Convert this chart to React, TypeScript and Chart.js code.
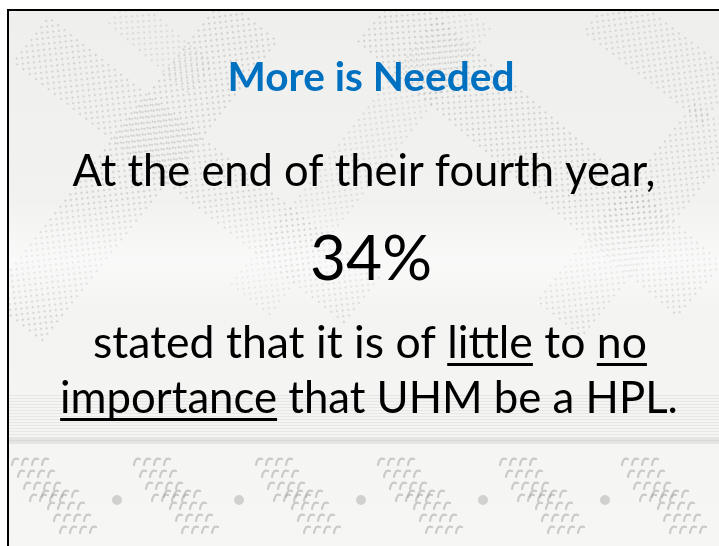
import React, { useEffect, useRef } from "react";
import { Chart, registerables } from "chart.js";

Chart.register(...registerables);

// ---- content ----
const titleText = "More is Needed";
const introLine = "At the end of their fourth year,";
const percentValue = 34;
const percentSuffix = "%";
// segments: [text, underlined]
const statementLine1: [string, boolean][] = [
  ["stated that it is of ", false],
  ["little", true],
  [" to ", false],
  ["no", true],
];
const statementLine2: [string, boolean][] = [
  ["importance", true],
  [" that UHM be a HPL.", false],
];

const FONT = "Lato, 'Open Sans', 'Noto Sans', sans-serif";

type Band = { x1: number; y1: number; x2: number; y2: number; w: number; a: number };
const textureBands: Band[] = [
  { x1: 15, y1: 320, x2: 250, y2: 20, w: 70, a: 0.3 },
  { x1: 30, y1: 40, x2: 360, y2: 300, w: 60, a: 0.28 },
  { x1: 250, y1: 300, x2: 470, y2: 15, w: 50, a: 0.2 },
  { x1: 380, y1: 15, x2: 700, y2: 290, w: 70, a: 0.3 },
  { x1: 560, y1: 320, x2: 719, y2: 120, w: 60, a: 0.26 },
  { x1: 600, y1: 10, x2: 719, y2: 100, w: 60, a: 0.26 },
  { x1: 120, y1: 10, x2: 200, y2: 80, w: 40, a: 0.2 },
];

function drawBand(ctx: CanvasRenderingContext2D, b: Band) {
  const dx = b.x2 - b.x1;
  const dy = b.y2 - b.y1;
  const len = Math.hypot(dx, dy);
  const ang = Math.atan2(dy, dx);
  ctx.save();
  ctx.translate(b.x1, b.y1);
  ctx.rotate(ang);
  ctx.fillStyle = `rgba(140,140,140,${b.a})`;
  const step = 4;
  for (let u = 0; u < len; u += step) {
    for (let v = -b.w / 2; v < b.w / 2; v += step) {
      const row = Math.round(v / step);
      const col = Math.round(u / step);
      if ((row + col) % 2 === 0) ctx.fillRect(u, v, 2, 2);
    }
  }
  ctx.restore();
}

function squiggle(ctx: CanvasRenderingContext2D, px: number, py: number) {
  ctx.beginPath();
  ctx.moveTo(px, py + 7);
  ctx.quadraticCurveTo(px + 1, py - 1, px + 6, py + 1);
  ctx.stroke();
}

const slidePlugin = {
  id: "slide",
  beforeDraw(chart: any) {
    const ctx: CanvasRenderingContext2D = chart.ctx;
    const W = chart.width;
    const H = chart.height;
    ctx.save();
    ctx.fillStyle = "#ffffff";
    ctx.fillRect(0, 0, W, H);
    const sx = 8;
    const sy = 10;
    ctx.beginPath();
    ctx.rect(sx, sy, W - sx, H - sy);
    ctx.clip();
    const g = ctx.createLinearGradient(0, sy, 0, H);
    g.addColorStop(0, "#efefee");
    g.addColorStop(0.5, "#f3f3f2");
    g.addColorStop(1, "#f6f6f5");
    ctx.fillStyle = g;
    ctx.fillRect(sx, sy, W - sx, H - sy);
    textureBands.forEach((b) => drawBand(ctx, b));
    // soft light streaks
    const lg = ctx.createLinearGradient(0, 200, 0, 320);
    lg.addColorStop(0, "rgba(255,255,255,0)");
    lg.addColorStop(0.5, "rgba(255,255,255,0.55)");
    lg.addColorStop(1, "rgba(255,255,255,0)");
    ctx.fillStyle = lg;
    ctx.fillRect(sx, 200, W, 120);
    // horizontal woven band
    ctx.fillStyle = "rgba(150,150,150,0.14)";
    for (let y = 395; y < 445; y += 3) {
      ctx.fillRect(sx, y, W, 1);
    }
    ctx.fillStyle = "rgba(170,170,170,0.22)";
    ctx.fillRect(sx, 438, W, 5);
    // bottom squiggle motifs
    ctx.strokeStyle = "rgba(165,165,165,0.55)";
    ctx.lineWidth = 2.2;
    ctx.lineCap = "round";
    for (let k = 0; k < 6; k++) {
      const x0 = 12 + k * 122;
      for (let r = 0; r < 4; r++) {
        for (let j = 0; j < 4; j++) {
          squiggle(ctx, x0 + j * 10 + r * 6, 458 + r * 12);
        }
      }
      for (let r = 0; r < 4; r++) {
        for (let j = 0; j < 4; j++) {
          squiggle(ctx, x0 + 30 + j * 10 + r * 6, 490 + r * 12);
        }
      }
      ctx.fillStyle = "rgba(165,165,165,0.45)";
      ctx.beginPath();
      ctx.arc(x0 + 105, 500, 5, 0, Math.PI * 2);
      ctx.fill();
    }
    ctx.restore();
    // border
    ctx.save();
    ctx.fillStyle = "#000";
    ctx.fillRect(7, 9, W - 7, 2);
    ctx.fillRect(7, 9, 2, H - 9);
    ctx.restore();
  },
  afterDraw(chart: any) {
    const ctx: CanvasRenderingContext2D = chart.ctx;
    ctx.save();
    ctx.textBaseline = "alphabetic";
    ctx.textAlign = "left";

    const fitSize = (text: string, weight: string, target: number) => {
      ctx.font = `${weight} 100px ${FONT}`;
      const w = ctx.measureText(text).width;
      return (100 * target) / w;
    };

    const drawCentered = (text: string, weight: string, color: string, cx: number, base: number, width: number) => {
      const size = fitSize(text, weight, width);
      ctx.font = `${weight} ${size}px ${FONT}`;
      ctx.fillStyle = color;
      const w = ctx.measureText(text).width;
      ctx.fillText(text, cx - w / 2, base);
    };

    const drawSegments = (segs: [string, boolean][], cx: number, base: number, width: number, ulY: number) => {
      const full = segs.map((s) => s[0]).join("");
      const size = fitSize(full, "400", width);
      ctx.font = `400 ${size}px ${FONT}`;
      const total = ctx.measureText(full).width;
      let x = cx - total / 2;
      ctx.fillStyle = "#000";
      segs.forEach(([t, u]) => {
        const w = ctx.measureText(t).width;
        ctx.fillText(t, x, base);
        if (u) ctx.fillRect(x, ulY, w, 3);
        x += w;
      });
    };

    drawCentered(titleText, "700", "#0070C0", 371, 91, 287);
    drawCentered(introLine, "400", "#000", 364, 186, 583);
    drawCentered(`${percentValue}${percentSuffix}`, "400", "#000", 371, 280, 122);
    drawSegments(statementLine1, 370, 358, 554, 363);
    drawSegments(statementLine2, 369, 413, 618, 418);
    ctx.restore();
  },
};

export default function App() {
  const ref = useRef<HTMLCanvasElement | null>(null);
  useEffect(() => {
    if (!ref.current) return;
    const chart = new Chart(ref.current, {
      type: "scatter",
      data: { datasets: [] },
      options: {
        animation: false,
        responsive: false,
        devicePixelRatio: 1,
        layout: { padding: 0 },
        plugins: {
          legend: { display: false },
          tooltip: { enabled: false },
          title: { display: false },
        },
        scales: { x: { display: false }, y: { display: false } },
      },
      plugins: [slidePlugin],
    } as any);
    return () => chart.destroy();
  }, []);
  return (
    <div style={{ position: "fixed", left: 0, top: 0, width: 719, height: 546 }}>
      <canvas ref={ref} width={719} height={546} style={{ display: "block" }} />
    </div>
  );
}
